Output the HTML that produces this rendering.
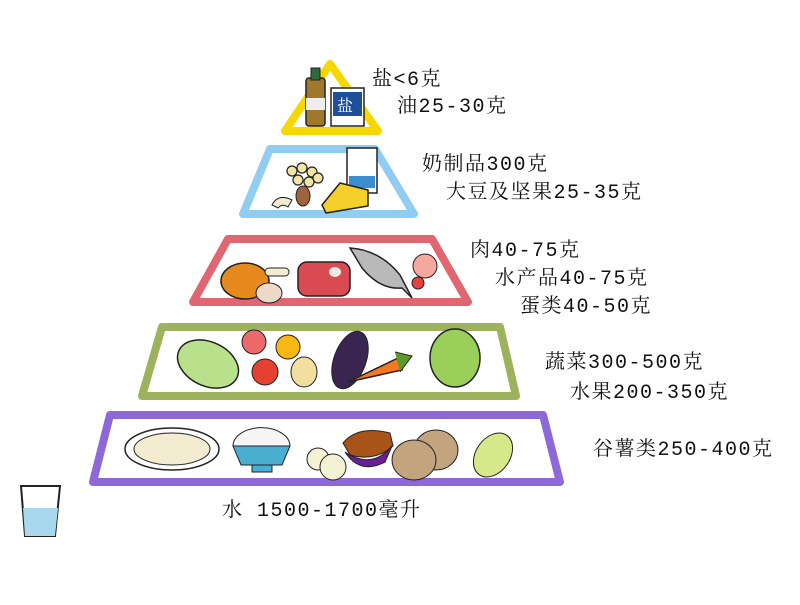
<!DOCTYPE html>
<html><head><meta charset="utf-8"><style>
body{margin:0;background:#fff;width:800px;height:600px;overflow:hidden}
text{font-family:"Liberation Mono","Noto Serif CJK SC",monospace;font-size:20px;fill:#111;letter-spacing:1.5px}
</style></head><body>
<svg width="800" height="600" viewBox="0 0 800 600" xmlns="http://www.w3.org/2000/svg">
<g fill="none" stroke-linejoin="round" stroke-width="8">
<path d="M330 64 L378 131 L285 131 Z" stroke="#f5d800"/>
<path d="M270 149 L375 149 L414 214 L243 214 Z" stroke="#90cdf0"/>
<path d="M228 239 L432 239 L468 302 L193 302 Z" stroke="#e06672"/>
<path d="M162 327 L500 327 L516 396 L142 396 Z" stroke="#9db25c"/>
<path d="M110 415 L543 415 L560 482 L93 482 Z" stroke="#8c68d8"/>
</g>
<rect x="306" y="78" width="19" height="48" rx="3" fill="#a0782c" stroke="#222" stroke-width="1.5"/>
<rect x="311" y="68" width="9" height="12" fill="#2e6b3a" stroke="#222"/>
<rect x="306" y="98" width="19" height="12" fill="#eee"/>
<rect x="331" y="88" width="33" height="38" fill="#fff" stroke="#222" stroke-width="1.5"/>
<rect x="333" y="92" width="29" height="24" fill="#1e4f9a"/>
<text x="337" y="111" style="font-size:16px;fill:#fff;letter-spacing:0">盐</text>
<g fill="#f1e6a6" stroke="#222" stroke-width="1.2"><circle cx="292" cy="171" r="5"/><circle cx="302" cy="168" r="5"/><circle cx="312" cy="172" r="5"/><circle cx="298" cy="180" r="5"/><circle cx="309" cy="182" r="5"/><circle cx="318" cy="178" r="5"/></g>
<path d="M272 205 Q278 193 292 200 L288 207 Q282 203 278 208 Z" fill="#f4ecd0" stroke="#222"/>
<ellipse cx="303" cy="196" rx="7" ry="10" fill="#a0643c" stroke="#222"/>
<rect x="347" y="148" width="30" height="45" fill="#fff" stroke="#222" stroke-width="1.5"/>
<rect x="349" y="176" width="26" height="12" fill="#3a8ed0"/>
<path d="M322 205 L340 183 L368 190 L368 206 L326 213 Z" fill="#f5cf2a" stroke="#222" stroke-width="1.5"/>
<ellipse cx="245" cy="281" rx="24" ry="18" fill="#e78a1e" stroke="#222" stroke-width="1.5"/>
<rect x="265" y="268" width="24" height="8" rx="4" fill="#f2ecd0" stroke="#222"/>
<ellipse cx="269" cy="293" rx="13" ry="10" fill="#ecd9c8" stroke="#222"/>
<rect x="298" y="262" width="52" height="34" rx="9" fill="#d94a52" stroke="#222" stroke-width="1.5"/>
<ellipse cx="335" cy="272" rx="6" ry="5" fill="#f0ece0"/>
<path d="M350 248 Q380 250 400 275 L412 298 L402 288 Q380 290 362 268 Z" fill="#b9b9b9" stroke="#222" stroke-width="1.5"/>
<circle cx="425" cy="266" r="12" fill="#f4a8a0" stroke="#222"/>
<circle cx="418" cy="283" r="6" fill="#e64040" stroke="#222"/>
<ellipse cx="208" cy="364" rx="32" ry="22" fill="#b9e08a" stroke="#222" stroke-width="1.5" transform="rotate(25 208 364)"/>
<circle cx="254" cy="342" r="12" fill="#ec6a6a" stroke="#222"/>
<circle cx="288" cy="347" r="12" fill="#f9b814" stroke="#222"/>
<circle cx="265" cy="372" r="13" fill="#e64030" stroke="#222"/>
<ellipse cx="304" cy="372" rx="13" ry="15" fill="#f2dfa0" stroke="#222"/>
<ellipse cx="350" cy="360" rx="16" ry="30" fill="#3a2550" stroke="#222" transform="rotate(20 350 360)"/>
<path d="M348 382 L398 358 L402 370 Z" fill="#f57820" stroke="#222" stroke-width="1.5"/>
<path d="M395 352 L412 356 L400 372" fill="#5a9a2a" stroke="#222"/>
<ellipse cx="455" cy="358" rx="25" ry="29" fill="#9ad05a" stroke="#222" stroke-width="1.5"/>
<ellipse cx="172" cy="449" rx="47" ry="21" fill="#fff" stroke="#222" stroke-width="1.5"/>
<ellipse cx="172" cy="449" rx="38" ry="16" fill="#f4ecd0" stroke="#222"/>
<path d="M233 446 A28 18 0 0 1 290 446 Z" fill="#f5f5f5" stroke="#222"/>
<path d="M233 446 L290 446 L282 465 L241 465 Z" fill="#4aaed0" stroke="#222"/>
<rect x="252" y="465" width="20" height="7" fill="#4aaed0" stroke="#222"/>
<circle cx="318" cy="459" r="11" fill="#f4f2d4" stroke="#222"/>
<circle cx="333" cy="467" r="13" fill="#f4f2d4" stroke="#222"/>
<path d="M343 443 Q358 425 390 433 L393 446 Q375 462 350 455 Z" fill="#a85418" stroke="#222"/>
<path d="M345 452 Q372 470 392 446 L385 462 Q360 475 345 452 Z" fill="#6a1e96" stroke="#222"/>
<ellipse cx="436" cy="450" rx="22" ry="20" fill="#c4a47e" stroke="#222"/>
<ellipse cx="414" cy="460" rx="22" ry="20" fill="#c4a47e" stroke="#222"/>
<ellipse cx="493" cy="455" rx="17" ry="24" fill="#d6e88a" stroke="#222" transform="rotate(35 493 455)"/>
<path d="M21 486 L60 486 L55 536 L25 536 Z" fill="#fff" stroke="#222" stroke-width="2"/>
<path d="M23 508 L58 508 L55 536 L25 536 Z" fill="#a8d8f0"/>
<text x="372" y="85">盐&lt;6克</text>
<text x="397" y="112">油25-30克</text>
<text x="422" y="170">奶制品300克</text>
<text x="446" y="198">大豆及坚果25-35克</text>
<text x="470" y="256">肉40-75克</text>
<text x="495" y="284">水产品40-75克</text>
<text x="520" y="312">蛋类40-50克</text>
<text x="545" y="368">蔬菜300-500克</text>
<text x="570" y="398">水果200-350克</text>
<text x="593" y="455">谷薯类250-400克</text>
<text x="222" y="516" xml:space="preserve">水 1500-1700毫升</text>
</svg>
</body></html>
